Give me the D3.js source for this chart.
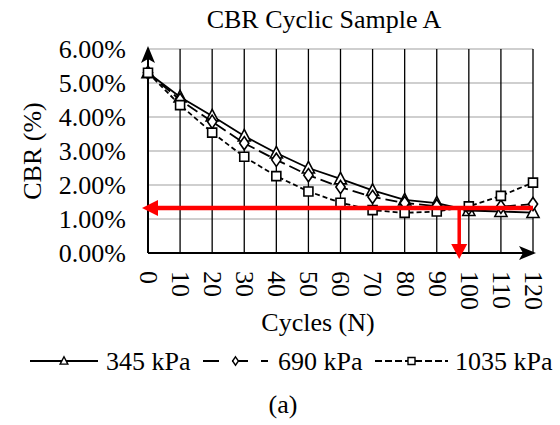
<!DOCTYPE html>
<html>
<head>
<meta charset="utf-8">
<script src="https://cdn.jsdelivr.net/npm/d3@7/dist/d3.min.js"></script>
<style>
  html, body { margin: 0; padding: 0; background: #fff; }
</style>
</head>
<body>
<svg id="chart" width="560" height="425"></svg>
<script>
// ---- data ----
const cycles = [0, 10, 20, 30, 40, 50, 60, 70, 80, 90, 100, 110, 120];
const cbr345  = [5.30, 4.59, 4.03, 3.44, 2.94, 2.50, 2.18, 1.84, 1.56, 1.47, 1.25, 1.22, 1.19];
const cbr690  = [5.30, 4.50, 3.86, 3.23, 2.74, 2.29, 1.94, 1.65, 1.47, 1.38, 1.32, 1.36, 1.44];
const cbr1035 = [5.30, 4.35, 3.54, 2.83, 2.26, 1.81, 1.48, 1.26, 1.18, 1.22, 1.37, 1.68, 2.07];
const seriesNames = ["345 kPa", "690 kPa", "1035 kPa"];
const yTicks = [0, 1, 2, 3, 4, 5, 6];
const xTicks = cycles;
const redLevel = 1.32;   // % CBR threshold line
const redCycle = 97;     // cycle where threshold is reached
const titleText = "CBR Cyclic Sample A";
const xTitle = "Cycles (N)";
const yTitle = "CBR (%)";
const caption = "(a)";

// ---- layout ----
const FONT = "'Liberation Serif', 'Times New Roman', serif";
const svg = d3.select("#chart");
const L = 148, R = 533, T = 49, B = 253;
const x = d3.scaleLinear().domain([0, 120]).range([L, R]);
const y = d3.scaleLinear().domain([0, 6]).range([B, T]);
const FS = 26;

// horizontal gridlines (gray)
svg.append("g").selectAll("line").data(yTicks.filter(d => d > 0)).join("line")
  .attr("x1", L).attr("x2", R)
  .attr("y1", d => y(d)).attr("y2", d => y(d))
  .attr("stroke", "#bfbfbf").attr("stroke-width", 1.3);

// vertical gridlines (black)
svg.append("g").selectAll("line").data(xTicks.filter(d => d > 0)).join("line")
  .attr("x1", d => x(d)).attr("x2", d => x(d))
  .attr("y1", T).attr("y2", B)
  .attr("stroke", "#000").attr("stroke-width", 1.3);

// axes lines with arrows
svg.append("line").attr("x1", L).attr("x2", L).attr("y1", B).attr("y2", T + 4)
  .attr("stroke", "#000").attr("stroke-width", 2);
svg.append("line").attr("x1", L).attr("x2", R).attr("y1", B).attr("y2", B)
  .attr("stroke", "#000").attr("stroke-width", 2);
svg.append("path")
  .attr("d", `M${L},${T - 3} L${L + 7},${T + 14} L${L},${T + 10} L${L - 7},${T + 14} Z`)
  .attr("fill", "#000");
svg.append("path")
  .attr("d", `M${R + 3},${B} L${R - 14},${B + 7} L${R - 10},${B} L${R - 14},${B - 7} Z`)
  .attr("fill", "#000");

// y axis labels
const yAxis = d3.axisLeft(y).tickValues(yTicks).tickSize(0).tickPadding(22)
  .tickFormat(d => d3.format(".2f")(d) + "%");
const gy = svg.append("g").attr("transform", `translate(${L},0)`).call(yAxis)
  .attr("font-family", FONT).attr("font-size", FS);
gy.select(".domain").remove();
gy.selectAll("text").attr("font-family", FONT).attr("font-size", FS).attr("fill", "#000");

// x axis labels (rotated)
const xAxis = d3.axisBottom(x).tickValues(xTicks).tickSize(0).tickFormat(d => String(d));
const gx = svg.append("g").attr("transform", `translate(0,${B})`).call(xAxis)
  .attr("font-family", FONT).attr("font-size", FS);
gx.select(".domain").remove();
gx.selectAll("text")
  .attr("font-family", FONT).attr("font-size", FS).attr("fill", "#000")
  .attr("text-anchor", "start")
  .attr("transform", "rotate(90)")
  .attr("x", 18).attr("y", 0).attr("dy", "0.33em");

// series
const series = [
  { name: seriesNames[0], values: cbr345, dash: null, marker: "triangle" },
  { name: seriesNames[1], values: cbr690, dash: "12,5", marker: "diamond" },
  { name: seriesNames[2], values: cbr1035, dash: "5,3", marker: "square" }
];
const symbolPath = (type, s) => {
  if (type === "triangle") return `M0,${-s * 0.6} L${s * 0.55},${s * 0.45} L${-s * 0.55},${s * 0.45} Z`;
  if (type === "diamond") return `M0,${-s * 0.6} L${s * 0.42},0 L0,${s * 0.6} L${-s * 0.42},0 Z`;
  return `M${-s / 2},${-s / 2} H${s / 2} V${s / 2} H${-s / 2} Z`;
};
const line = d3.line().x(d => x(d[0])).y(d => y(d[1]));
series.forEach(s => {
  const pts = cycles.map((c, i) => [c, s.values[i]]);
  svg.append("path").datum(pts).attr("d", line)
    .attr("fill", "none").attr("stroke", "#000").attr("stroke-width", 1.8)
    .attr("stroke-dasharray", s.dash);
  svg.append("g").selectAll("path").data(pts).join("path")
    .attr("transform", d => `translate(${x(d[0])},${y(d[1])})`)
    .attr("d", symbolPath(s.marker, s.marker === "square" ? 9 : 11))
    .attr("fill", "#fff").attr("stroke", "#000").attr("stroke-width", 1.6);
});

// red annotation
const red = "#ff0000";
svg.append("line").attr("x1", x(120)).attr("x2", x(0) + 8)
  .attr("y1", y(redLevel)).attr("y2", y(redLevel))
  .attr("stroke", red).attr("stroke-width", 4.5);
svg.append("path")
  .attr("d", `M${x(0) - 6},${y(redLevel)} L${x(0) + 10},${y(redLevel) - 8} L${x(0) + 10},${y(redLevel) + 8} Z`)
  .attr("fill", red);
svg.append("line").attr("x1", x(redCycle)).attr("x2", x(redCycle))
  .attr("y1", y(redLevel)).attr("y2", y(0) - 8)
  .attr("stroke", red).attr("stroke-width", 3.5);
svg.append("path")
  .attr("d", `M${x(redCycle)},${y(0) + 6} L${x(redCycle) - 8},${y(0) - 9} L${x(redCycle) + 8},${y(0) - 9} Z`)
  .attr("fill", red);

// titles
const addText = (sel) => sel.attr("font-family", FONT).attr("font-size", FS).attr("fill", "#000");
addText(svg.append("text")).attr("x", 324).attr("y", 28).attr("text-anchor", "middle").text(titleText);
addText(svg.append("text")).attr("x", 318).attr("y", 331).attr("text-anchor", "middle").text(xTitle);
addText(svg.append("text")).attr("transform", "translate(41,151) rotate(-90)").attr("text-anchor", "middle").text(yTitle);
addText(svg.append("text")).attr("x", 283).attr("y", 413).attr("text-anchor", "middle").text(caption);

// legend
const legendItems = [
  { x0: 30, x1: 98, tx: 106 },
  { x0: 203, x1: 268, tx: 278 },
  { x0: 375, x1: 448, tx: 455 }
];
const ly = 361;
series.forEach((s, i) => {
  const it = legendItems[i];
  svg.append("line").attr("x1", it.x0).attr("x2", it.x1).attr("y1", ly).attr("y2", ly)
    .attr("stroke", "#000").attr("stroke-width", 1.8)
    .attr("stroke-dasharray", i === 1 ? "16,13" : (i === 2 ? "7,3" : null));
  svg.append("path").attr("transform", `translate(${(it.x0 + it.x1) / 2},${ly})`)
    .attr("d", symbolPath(s.marker, 7))
    .attr("fill", "#fff").attr("stroke", "#000").attr("stroke-width", 1.4);
  addText(svg.append("text")).attr("x", it.tx).attr("y", 370).text(s.name);
});
</script>
</body>
</html>
